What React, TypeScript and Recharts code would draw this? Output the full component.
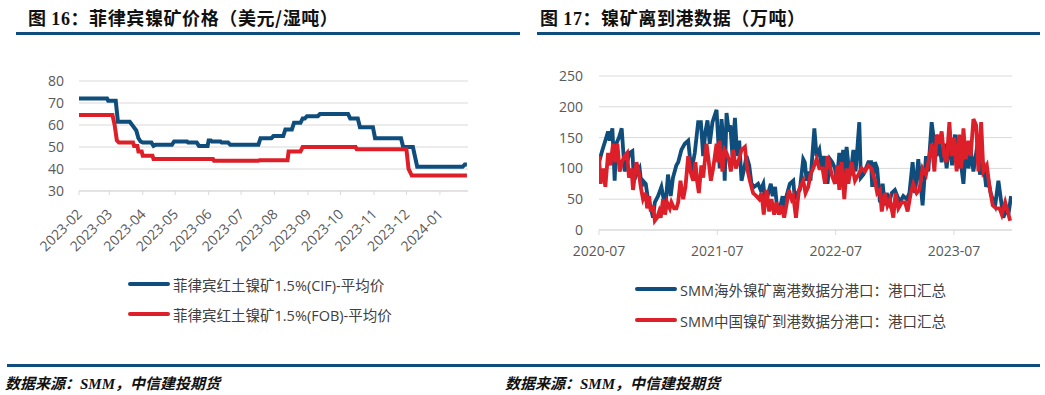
import React from 'react';
import { LineChart, Line, XAxis, YAxis, CartesianGrid } from 'recharts';

// ---------- Figure 16: Philippine nickel ore price (USD / wet ton) ----------
// x = days since 2023-02-01
const priceMonthTicks = [0, 28, 59, 89, 120, 150, 181, 212, 242, 273, 303, 334];
const priceMonthLabels = ['2023-02', '2023-03', '2023-04', '2023-05', '2023-06', '2023-07', '2023-08', '2023-09', '2023-10', '2023-11', '2023-12', '2024-01'];
const priceYTicks = [30, 40, 50, 60, 70, 80];

const cifDays = [0, 26, 27, 34, 36, 47, 50, 53, 55, 57, 59, 67, 69, 71, 86, 88, 100, 101, 109, 111, 119, 120, 122, 123, 131, 132, 138, 140, 166, 168, 178, 180, 189, 191, 197, 199, 205, 207, 209, 211, 221, 223, 249, 251, 258, 260, 272, 274, 298, 300, 309, 313, 355, 357, 359];
const cifValues = [72, 72, 71, 71, 61.5, 61.5, 59.5, 57.5, 54, 52.5, 52, 52, 50.5, 51, 51, 52.5, 52.5, 52, 52, 50.5, 50.5, 53, 53, 52.5, 52.5, 52, 52, 51, 51, 54, 54, 55, 55, 58, 58, 61, 61, 63, 63, 64, 64, 65, 65, 63, 63, 59, 59, 54, 54, 50, 50, 41, 41, 42, 42];

const fobDays = [0, 31, 33, 35, 37, 50, 51, 54, 55, 58, 59, 68, 69, 124, 125, 166, 167, 193, 194, 205, 207, 256, 257, 303, 305, 308, 359];
const fobValues = [64.5, 64.5, 60, 53, 52, 52, 50.5, 50.5, 48, 48, 46, 46, 44.5, 44.5, 43.7, 43.7, 44, 44, 48, 48, 50, 50, 49, 49, 40, 37, 37];

// ---------- Figure 17: nickel ore departures / arrivals (10k tons) ----------
// x = weeks since 2020-07-01
const portYearTicks = [0, 52.14, 104.29, 156.43];
const portYearLabels = ['2020-07', '2021-07', '2022-07', '2023-07'];
const portYTicks = [0, 50, 100, 150, 200, 250];

const departWeeks = [0, 1.5, 3.2, 4.0, 4.7, 5.9, 6.9, 7.6, 8.8, 9.6, 10.0, 11.3, 12.4, 13.5, 14.7, 15.4, 16.5, 17.9, 18.8, 19.4, 20.6, 21.6, 22.6, 23.8, 24.6, 26.0, 27.5, 28.5, 29.3, 30.4, 31.6, 32.6, 34.1, 34.9, 36.3, 37.8, 39.3, 40.7, 42.2, 43.7, 44.9, 45.9, 46.9, 47.8, 48.8, 50.0, 51.8, 53.2, 54.0, 54.7, 55.4, 56.2, 57.2, 57.9, 58.8, 59.9, 60.9, 61.8, 62.8, 64.0, 65.0, 66.2, 67.2, 68.4, 70.1, 71.2, 72.4, 73.4, 74.6, 75.7, 76.5, 77.6, 78.5, 79.7, 80.9, 81.6, 82.6, 84.1, 85.6, 86.3, 87.4, 88.5, 90.0, 90.7, 91.5, 92.5, 93.2, 94.9, 95.9, 97.1, 98.1, 99.1, 100.0, 100.7, 101.8, 102.8, 104.0, 104.7, 105.9, 106.6, 107.6, 108.4, 109.1, 110.1, 111.0, 112.1, 113.1, 114.7, 115.4, 116.5, 117.6, 118.7, 119.9, 120.4, 121.6, 122.6, 123.8, 125.0, 126.0, 126.8, 127.9, 129.0, 130.4, 131.5, 132.6, 134.1, 135.6, 136.8, 138.2, 139.3, 140.7, 142.6, 144.1, 145.1, 146.6, 147.8, 148.8, 150.0, 151.0, 152.1, 153.2, 154.4, 155.6, 156.9, 157.9, 159.1, 160.6, 161.8, 162.8, 163.8, 165.0, 166.8, 167.9, 169.4, 170.6, 171.6, 172.6, 173.5, 174.6, 176.0, 178.2, 179.4, 180.4, 181.6];
const departValues = [110, 130, 150, 160, 145, 165, 80, 140, 150, 160, 165, 95, 110, 125, 128, 80, 90, 100, 70, 80, 75, 50, 40, 20, 45, 55, 70, 50, 40, 90, 55, 85, 105, 110, 130, 140, 145, 95, 125, 175, 175, 120, 160, 178, 140, 175, 195, 100, 180, 150, 80, 190, 160, 170, 120, 182, 120, 145, 80, 100, 120, 105, 75, 70, 75, 65, 75, 40, 60, 75, 55, 70, 35, 35, 55, 30, 55, 75, 80, 50, 60, 65, 115, 110, 80, 95, 80, 165, 120, 130, 100, 120, 90, 75, 115, 110, 100, 75, 125, 90, 130, 70, 135, 100, 95, 130, 95, 175, 85, 90, 100, 110, 110, 70, 110, 100, 45, 75, 40, 60, 45, 60, 65, 55, 45, 55, 50, 60, 110, 60, 115, 40, 120, 95, 175, 140, 120, 140, 110, 140, 100, 145, 105, 155, 100, 120, 75, 140, 100, 130, 95, 140, 90, 110, 70, 80, 60, 50, 40, 80, 20, 35, 25, 55];

const arriveWeeks = [0, 0.7, 1.8, 2.8, 4.0, 5.0, 6.2, 7.1, 8.1, 9.1, 10.1, 11.3, 12.4, 13.2, 14.3, 15.0, 16.5, 17.5, 18.4, 19.4, 20.6, 21.2, 22.1, 22.8, 23.8, 24.6, 25.6, 26.5, 27.2, 28.2, 29.1, 30.0, 31.2, 31.9, 33.1, 34.1, 34.9, 35.9, 37.1, 38.1, 39.3, 40.3, 41.5, 42.5, 43.2, 44.0, 45.1, 45.9, 47.4, 48.4, 49.3, 50.3, 51.8, 52.5, 53.2, 54.4, 55.4, 56.2, 57.2, 58.1, 59.1, 60.3, 61.3, 62.8, 64.3, 65.3, 66.5, 67.9, 69.4, 70.6, 71.6, 72.6, 73.8, 75.0, 76.0, 77.2, 78.2, 79.3, 80.4, 81.6, 82.6, 83.7, 84.9, 85.6, 86.8, 88.1, 90.0, 91.0, 92.2, 93.2, 94.4, 95.9, 97.1, 98.5, 99.6, 100.7, 101.5, 102.5, 104.0, 105.1, 105.9, 106.9, 108.1, 109.1, 109.9, 111.3, 112.8, 114.3, 115.7, 117.2, 118.7, 120.1, 121.6, 122.6, 123.8, 124.6, 126.0, 127.1, 128.2, 129.7, 130.7, 131.9, 133.4, 134.9, 136.0, 137.4, 138.5, 140.0, 141.2, 142.6, 144.1, 145.1, 146.6, 147.8, 148.8, 149.9, 151.0, 152.1, 153.2, 154.4, 155.4, 156.5, 157.6, 158.7, 159.6, 160.6, 161.6, 162.8, 163.8, 165.0, 166.2, 167.2, 168.4, 169.4, 170.9, 172.1, 173.5, 175.0, 176.5, 177.5, 179.0, 181.2];
const arriveValues = [120, 75, 100, 70, 125, 105, 140, 110, 140, 95, 110, 120, 125, 85, 100, 65, 110, 95, 70, 50, 60, 35, 55, 30, 40, 15, 20, 30, 20, 50, 25, 45, 35, 45, 35, 35, 45, 80, 50, 70, 120, 95, 80, 110, 80, 60, 105, 85, 140, 110, 80, 100, 140, 110, 145, 95, 130, 125, 115, 95, 130, 100, 110, 130, 135, 100, 80, 60, 55, 50, 60, 25, 65, 30, 50, 25, 45, 25, 40, 20, 40, 65, 50, 55, 20, 65, 80, 60, 70, 90, 100, 115, 100, 100, 75, 120, 110, 90, 75, 105, 65, 110, 50, 100, 75, 110, 80, 90, 100, 95, 105, 100, 80, 60, 65, 30, 60, 40, 50, 20, 60, 35, 45, 45, 30, 60, 75, 60, 65, 100, 90, 110, 140, 95, 155, 140, 160, 120, 110, 175, 120, 150, 95, 155, 100, 165, 115, 145, 120, 180, 170, 95, 175, 95, 105, 70, 40, 35, 35, 25, 45, 15];

const BLUE = '#0E4D7C';
const RED = '#DC1F28';
const GRID = '#D9D9D9';
const TEXT = '#595959';
const FONT = "'Open Sans', 'Noto Sans CJK SC', sans-serif";
const TITLE_FONT = "'Noto Sans CJK SC', sans-serif";

const zip = (xs: number[], ys: number[]) => xs.map((x, i) => ({ x, y: ys[i] }));
const cifData = zip(cifDays, cifValues);
const fobData = zip(fobDays, fobValues);
const departData = zip(departWeeks, departValues);
const arriveData = zip(arriveWeeks, arriveValues);

const RotTick = (props: any) => {
  const { x, y, payload } = props;
  const i = priceMonthTicks.indexOf(payload.value);
  return (
    <text
      transform={`translate(${x + 4},${y + 18}) rotate(-45)`}
      textAnchor="end"
      fill={TEXT}
      fontSize={14}
      fontFamily={FONT}
    >
      {priceMonthLabels[i]}
    </text>
  );
};

const LegendItem = ({ left, top, color, label }: { left: number; top: number; color: string; label: string }) => (
  <div style={{ position: 'absolute', left, top, display: 'flex', alignItems: 'center', height: 20 }}>
    <span style={{ display: 'inline-block', width: 42, height: 4, borderRadius: 2, background: color, marginRight: 3 }} />
    <span style={{ fontFamily: FONT, fontSize: 14.5, color: '#404040', whiteSpace: 'nowrap' }}>{label}</span>
  </div>
);

const Title = ({ left, text }: { left: number; text: React.ReactNode }) => (
  <div style={{ position: 'absolute', left, top: 5, fontFamily: TITLE_FONT, fontWeight: 700, fontSize: 18, letterSpacing: 0.6, color: '#111', whiteSpace: 'nowrap', lineHeight: '24px' }}>
    {text}
  </div>
);

const Footer = ({ left }: { left: number }) => (
  <div style={{ position: 'absolute', left, top: 373, fontFamily: TITLE_FONT, fontWeight: 700, fontStyle: 'italic', fontSize: 15, color: '#111', whiteSpace: 'nowrap', lineHeight: '20px' }}>
    数据来源：<span style={{ fontFamily: "'Liberation Serif', serif" }}>SMM</span>，中信建投期货
  </div>
);

export default function App() {
  return (
    <div style={{ position: 'fixed', left: 0, top: 0, width: 1045, height: 395, background: '#fff', overflow: 'hidden' }}>
      <Title left={28} text={<>图 <span style={{ fontFamily: "'Liberation Serif', serif" }}>16</span>：菲律宾镍矿价格（美元/湿吨）</>} />
      <div style={{ position: 'absolute', left: 16, top: 32, width: 504, height: 3, background: BLUE }} />
      <Title left={540} text={<>图 <span style={{ fontFamily: "'Liberation Serif', serif" }}>17</span>：镍矿离到港数据（万吨）</>} />
      <div style={{ position: 'absolute', left: 537, top: 32, width: 503, height: 3, background: BLUE }} />

      <div style={{ position: 'absolute', left: 0, top: 0 }}>
        <LineChart width={520} height={280} margin={{ top: 81, right: 52, left: 0, bottom: 19 }}>
          <CartesianGrid vertical={false} stroke={GRID} />
          <XAxis
            type="number"
            dataKey="x"
            domain={[0, 360]}
            ticks={priceMonthTicks}
            interval={0}
            tick={<RotTick />}
            tickSize={4}
            tickLine={{ stroke: GRID }}
            axisLine={{ stroke: GRID }}
            height={70}
            allowDataOverflow
          />
          <YAxis
            type="number"
            domain={[30, 80]}
            ticks={priceYTicks}
            interval={0}
            axisLine={false}
            tickLine={false}
            tickSize={0}
            tickMargin={15}
            width={79}
            tick={{ fill: TEXT, fontSize: 14, fontFamily: FONT }}
          />
          <Line data={cifData} dataKey="y" type="linear" stroke={BLUE} strokeWidth={4} dot={false} isAnimationActive={false} />
          <Line data={fobData} dataKey="y" type="linear" stroke={RED} strokeWidth={4} dot={false} isAnimationActive={false} />
        </LineChart>
      </div>

      <div style={{ position: 'absolute', left: 520, top: 0 }}>
        <LineChart width={525} height={280} margin={{ top: 76, right: 33, left: 0, bottom: 10 }}>
          <CartesianGrid vertical={false} stroke={GRID} />
          <XAxis
            type="number"
            dataKey="x"
            domain={[0, 182]}
            ticks={portYearTicks}
            interval={0}
            tickFormatter={(_v: any, i: number) => portYearLabels[i]}
            tick={{ fill: TEXT, fontSize: 14, fontFamily: FONT }}
            tickSize={5}
            tickMargin={11}
            tickLine={{ stroke: GRID }}
            axisLine={{ stroke: GRID }}
            height={40}
            allowDataOverflow
          />
          <YAxis
            type="number"
            domain={[0, 250]}
            ticks={portYTicks}
            interval={0}
            axisLine={false}
            tickLine={false}
            tickSize={0}
            tickMargin={16}
            width={79}
            tick={{ fill: TEXT, fontSize: 14, fontFamily: FONT }}
          />
          <Line data={departData} dataKey="y" type="linear" stroke={BLUE} strokeWidth={3.8} dot={false} isAnimationActive={false} />
          <Line data={arriveData} dataKey="y" type="linear" stroke={RED} strokeWidth={3.8} dot={false} isAnimationActive={false} />
        </LineChart>
      </div>

      <LegendItem left={128} top={274} color={BLUE} label="菲律宾红土镍矿1.5%(CIF)-平均价" />
      <LegendItem left={128} top={304} color={RED} label="菲律宾红土镍矿1.5%(FOB)-平均价" />
      <LegendItem left={635} top={279} color={BLUE} label="SMM海外镍矿离港数据分港口：港口汇总" />
      <LegendItem left={635} top={310} color={RED} label="SMM中国镍矿到港数据分港口：港口汇总" />

      <div style={{ position: 'absolute', left: 7, top: 364, width: 1033, height: 3, background: BLUE }} />
      <Footer left={5} />
      <Footer left={505} />
    </div>
  );
}
